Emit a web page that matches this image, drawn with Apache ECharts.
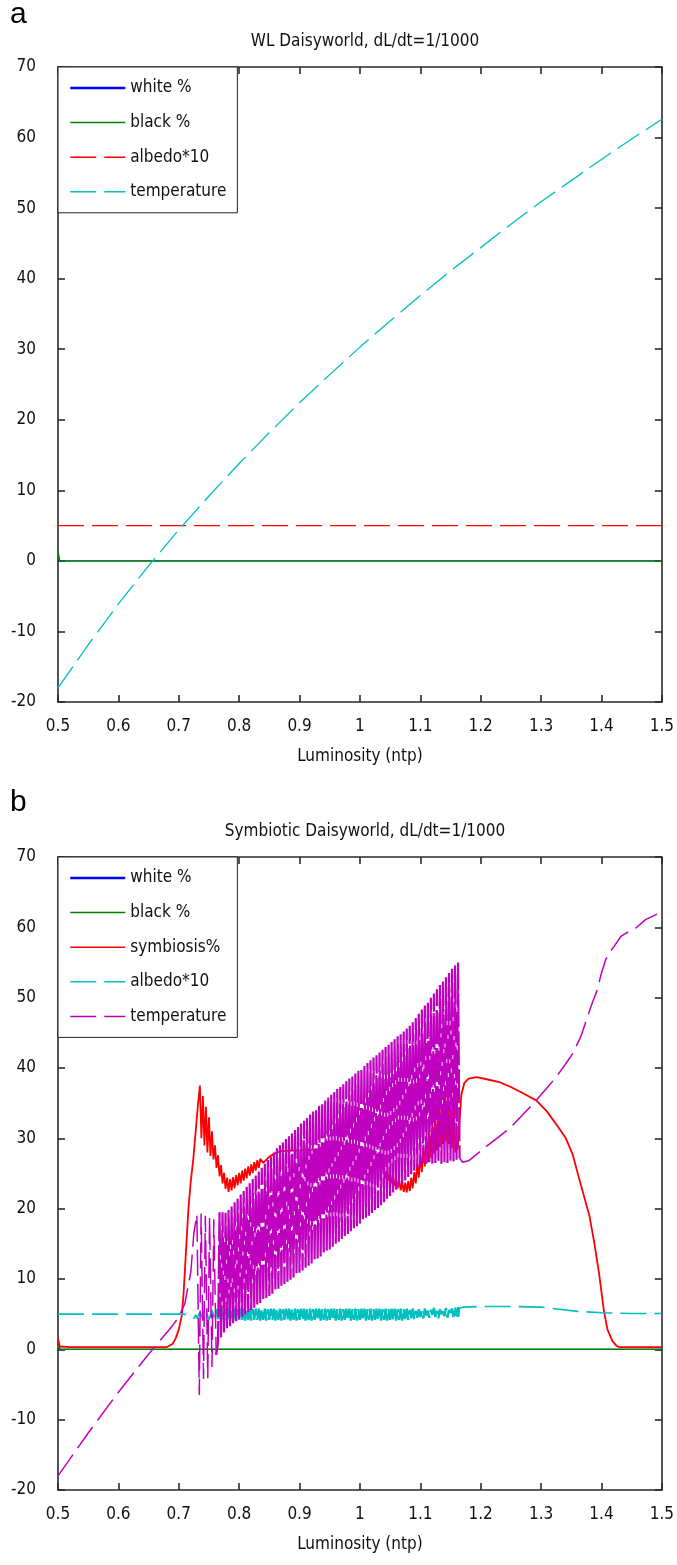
<!DOCTYPE html>
<html>
<head>
<meta charset="utf-8">
<script src="https://cdn.jsdelivr.net/npm/echarts@6/dist/echarts.min.js"></script>
<style>
html,body{margin:0;padding:0;background:#fff;}
#chart{width:677px;height:1565px;}
</style>
</head>
<body>
<div id="chart"></div>
<script>
// ---------------- DATA ----------------
const xTicksMin = 0.5, xTicksMax = 1.5, xTickStep = 0.1;
const yTicksMin = -20, yTicksMax = 70, yTickStep = 10;

// Panel a: WL Daisyworld
const lumA = [0.5,0.55,0.6,0.65,0.7,0.75,0.8,0.85,0.9,0.95,1.0,1.05,1.1,1.15,1.2,1.25,1.3,1.35,1.4,1.45,1.5];
const tempA = [-18.0,-11.9,-6.1,-0.7,4.4,9.2,13.8,18.2,22.4,26.4,30.3,34.0,37.6,41.1,44.4,47.7,50.9,53.9,56.9,59.8,62.6];
const whiteA = [[0.5,0],[1.5,0]];
const blackA = [[0.5,1.2],[0.503,0],[1.5,0]];
const albedoA = [[0.5,5],[1.5,5]];

// Panel b: Symbiotic Daisyworld
const whiteB = [[0.5,0],[1.5,0]];
const blackB = [[0.5,1.3],[0.503,0],[1.5,0]];
const symbB = [
 [0.5,1.5],[0.503,0.4],[0.52,0.3],[0.68,0.3],[0.69,0.8],[0.695,1.6],[0.7,2.8],[0.705,4.8],[0.708,8],[0.712,14],
 [0.716,20],[0.72,24],[0.724,27],[0.728,31],[0.732,35],[0.735,37.5],
 [0.7375,30],[0.74,36],[0.7425,29],[0.745,34.5],[0.7475,28],[0.75,33],[0.7525,27.5],[0.755,31],[0.7575,27],[0.76,29],
 [0.7625,25.8],[0.765,27.6],[0.7675,24.6],[0.77,26.2],[0.7725,23.6],[0.775,25.1],[0.7775,22.8],[0.78,24.4],[0.7825,22.4],
 [0.785,24.2],[0.7875,22.6],[0.79,24.5],[0.7925,22.9],[0.795,24.8],[0.7975,23.3],[0.8,25.1],[0.8025,23.6],[0.805,25.4],
 [0.8075,24.0],[0.81,25.7],[0.8125,24.3],[0.815,26.0],[0.8175,24.7],[0.82,26.3],[0.8225,25.1],[0.825,26.6],[0.8275,25.4],
 [0.83,26.9],[0.8325,25.8],[0.835,27.1],[0.84,26.5],[0.85,27.4],[0.86,27.9],[0.87,28.2],[0.9,28.3],[0.95,28.5],[1.0,27.8],
 [1.03,26.5],[1.04,25.6],[1.0425,24.3],[1.045,25.4],[1.0475,24.0],[1.05,25.0],[1.0525,23.6],[1.055,24.6],[1.0575,23.2],
 [1.06,24.3],[1.0625,22.9],[1.065,24.0],[1.0675,22.6],[1.07,23.8],[1.0725,22.4],[1.075,23.7],[1.0775,22.3],[1.08,23.9],
 [1.0825,22.5],[1.085,24.4],[1.0875,22.9],[1.09,25.2],[1.0925,23.6],[1.095,26.4],[1.0975,24.4],[1.1,27.6],[1.1025,25.2],
 [1.105,28.8],[1.1075,26.0],[1.11,30.0],[1.1125,26.6],[1.115,31.2],[1.1175,27.2],[1.12,32.3],[1.1225,27.8],[1.125,33.3],
 [1.1275,28.3],[1.13,34.2],[1.1325,28.8],[1.135,35.0],[1.1375,29.2],[1.14,35.6],[1.1425,29.6],[1.145,36.0],[1.1475,29.2],
 [1.15,36.3],[1.1525,28.6],[1.155,36.4],[1.158,28.0],[1.162,28.6],[1.165,32.5],[1.168,36.2],[1.173,37.9],[1.18,38.5],
 [1.193,38.7],[1.21,38.4],[1.231,38.0],[1.25,37.3],[1.27,36.4],[1.292,35.4],[1.31,33.8],[1.33,31.4],[1.341,30.0],
 [1.352,27.8],[1.363,24.3],[1.372,21.5],[1.38,19.0],[1.388,15.2],[1.396,10.8],[1.404,5.5],[1.41,2.8],[1.418,1.2],
 [1.425,0.5],[1.43,0.3],[1.5,0.3]
];
const albedoBPre = [[0.5,5.0],[0.71,5.0],[0.715,4.8],[0.72,4.6],[0.725,4.4],[0.728,4.9],[0.73,4.4],[0.735,5.3],[0.74,4.3],
 [0.745,5.5],[0.75,4.2],[0.755,5.6],[0.76,4.2],[0.7625,5.7]];
const albedoBPost = [[1.163,4.6],[1.165,5.8],[1.17,6.0],[1.2,6.1],[1.25,6.1],[1.3,6.0],[1.33,5.7],[1.36,5.4],[1.4,5.2],[1.45,5.1],[1.5,5.1]];
const tempBPre = [[0.5,-18.0],[0.55,-11.9],[0.6,-6.1],[0.65,-0.7],[0.69,3.4],[0.7,4.6],[0.71,6.5],[0.72,11],[0.725,16.5],
 [0.73,19.2],[0.734,-6.5],[0.737,19.3],[0.741,-4.2],[0.744,19.0],[0.748,-4.1],[0.751,18.8],[0.755,-2.5],[0.758,18.5],
 [0.762,-0.8]];
const tempBPost = [[1.165,27.2],[1.17,26.6],[1.18,26.8],[1.2,28.2],[1.21,28.9],[1.23,30.2],[1.25,31.6],[1.27,33.4],[1.29,35.2],
 [1.31,37.2],[1.325,38.7],[1.34,40.5],[1.352,42.0],[1.366,44.5],[1.375,46.8],[1.385,49.3],[1.393,51.1],[1.4,53.5],
 [1.407,55.4],[1.415,56.6],[1.421,57.3],[1.432,58.7],[1.445,59.4],[1.457,59.9],[1.465,60.5],[1.473,61.1],[1.485,61.6],[1.5,62.2]];

// Oscillation region (panel b): troughs at oscStart + i*oscStep, peaks half a step later
const oscStart = 0.765, oscStep = 0.005;
const tempBOscLo = [1.0,1.7,2.4,3.0,3.3,3.7,4.0,4.3,4.6,5.0, 5.3,5.6,5.9,6.3,6.6,6.9,7.3,7.6,7.9,8.3,
 8.6,8.9,9.3,9.6,9.9,10.2,10.6,10.9,11.2,11.6, 11.9,12.2,12.6,12.9,13.2,13.5,13.9,14.2,14.6,15.0,
 15.3,15.7,16.1,16.4,16.8,17.2,17.5,17.9,18.3,18.7, 19.0,19.4,19.8,20.1,20.5,20.9,21.4,21.8,22.3,22.7,
 23.2,23.6,24.0,24.5,24.9,25.4,25.8,26.2,26.5,26.4, 26.6,26.3,26.5,26.7,26.4,26.6,26.5,26.8,26.7,26.9];
const tempBOscHi = [19.5,19.5,19.4,19.8,20.3,20.9,21.4,22.0,22.5,23.1, 23.6,24.2,24.7,25.3,25.8,26.4,26.9,27.5,28.0,28.6,
 29.0,29.4,29.9,30.3,30.7,31.2,31.6,32.1,32.5,32.9, 33.4,33.8,34.2,34.7,35.1,35.4,35.8,36.2,36.6,37.0,
 37.3,37.7,38.1,38.5,38.8,39.2,39.6,40.0,40.3,40.7, 41.1,41.5,41.8,42.2,42.6,43.0,43.3,43.7,44.1,44.5,
 44.8,45.2,45.6,46.0,46.5,47.1,47.7,48.3,48.9,49.4, 50.0,50.6,51.2,51.8,52.3,52.9,53.5,54.1,54.6,55.0];
const albedoBOscLo = [4.3,4.2,4.1,4.2,4.1,4.2,4.1,4.2,4.2,4.1, 4.2,4.1,4.2,4.2,4.1,4.2,4.1,4.2,4.2,4.1,
 4.2,4.1,4.2,4.2,4.1,4.2,4.1,4.2,4.2,4.1, 4.2,4.1,4.2,4.2,4.1,4.2,4.1,4.2,4.2,4.1,
 4.2,4.1,4.2,4.2,4.1,4.2,4.1,4.2,4.2,4.1, 4.2,4.1,4.2,4.2,4.1,4.2,4.1,4.2,4.2,4.1,
 4.2,4.1,4.3,4.2,4.4,4.3,4.5,4.6,4.4,4.8, 4.5,4.9,4.6,4.4,5.0,4.7,4.5,5.2,4.6,4.7];
const albedoBOscHi = [5.8,5.7,5.8,5.8,5.7,5.8,5.7,5.8,5.8,5.7, 5.8,5.7,5.8,5.8,5.7,5.8,5.7,5.8,5.8,5.7,
 5.8,5.7,5.8,5.8,5.7,5.8,5.7,5.8,5.8,5.7, 5.8,5.7,5.8,5.8,5.7,5.8,5.7,5.8,5.8,5.7,
 5.8,5.7,5.8,5.8,5.7,5.8,5.7,5.8,5.8,5.7, 5.8,5.7,5.8,5.8,5.7,5.8,5.7,5.8,5.8,5.7,
 5.8,5.7,5.8,5.6,5.8,5.5,5.7,5.4,5.8,5.5, 5.6,5.9,5.5,5.7,5.4,5.9,5.6,5.8,6.0,6.0];

// ---------------- BUILD ----------------
function zip(xs, ys){ return xs.map((x,i)=>[x, ys[i]]); }
function osc(lo, hi){
  const out = [];
  for (let i=0;i<lo.length;i++){
    out.push([+(oscStart + i*oscStep).toFixed(4), lo[i]]);
    out.push([+(oscStart + (i+0.5)*oscStep).toFixed(4), hi[i]]);
  }
  return out;
}
const last = a => a[a.length-1];
// smooth (legend) parts, broken where the oscillating part is drawn
const tempBSmooth = tempBPre.concat([[0.7635, null]], tempBPost);
const tempBOsc = [last(tempBPre)].concat(osc(tempBOscLo, tempBOscHi), [tempBPost[0]]);
const albedoBSmooth = albedoBPre.concat([[0.764, null]], albedoBPost);
const albedoBOsc = [last(albedoBPre)].concat(osc(albedoBOscLo, albedoBOscHi), [albedoBPost[0]]);

const FONT = "'DejaVu Sans Condensed','Liberation Sans',sans-serif";
const FS = 17;
const TXT = '#111';
const AXC = '#2a2a2a';
const BLUE='#0000ff', GREEN='#008000', RED='#ff0000', CYAN='#00bfbf', MAG='#bf00bf';
const DASH = [26,8];
const DENSE_DASH = [34,4];

const grids = [
  {left:58, top:67, width:604, height:635},
  {left:58, top:857, width:604, height:633}
];

function xAxes(g){
  const base = {gridIndex:g, type:'value', min:xTicksMin, max:xTicksMax, interval:xTickStep,
    axisLine:{onZero:false, lineStyle:{color:AXC, width:1.6}},
    axisTick:{inside:true, length:7, lineStyle:{color:AXC, width:1.6}},
    splitLine:{show:false}};
  return [
    Object.assign({}, base, {position:'bottom',
      axisLabel:{margin:16, fontSize:FS, fontFamily:FONT, color:TXT, formatter:v=>String(+(+v).toFixed(1))},
      name:'Luminosity (ntp)', nameLocation:'middle', nameGap:46,
      nameTextStyle:{fontSize:FS, fontFamily:FONT, color:TXT}}),
    Object.assign({}, base, {position:'top', axisLabel:{show:false}})
  ];
}
function yAxes(g){
  const base = {gridIndex:g, type:'value', min:yTicksMin, max:yTicksMax, interval:yTickStep,
    axisLine:{onZero:false, lineStyle:{color:AXC, width:1.6}},
    axisTick:{inside:true, length:7, lineStyle:{color:AXC, width:1.6}},
    splitLine:{show:false}};
  return [
    Object.assign({}, base, {position:'left', axisLabel:{margin:22, fontSize:FS, fontFamily:FONT, color:TXT}}),
    Object.assign({}, base, {position:'right', axisLabel:{show:false}})
  ];
}

function line(name, data, color, g, opts){
  opts = opts || {};
  return {
    name:name, type:'line', data:data, xAxisIndex:g*2, yAxisIndex:g*2,
    symbol:'none', showSymbol:false, animation:false, smooth:false, connectNulls:false,
    lineStyle:{color:color, width:opts.width||1.3, type:opts.dash||'solid'},
    itemStyle:{color:color}
  };
}

const series = [
  line('a|white %', whiteA, BLUE, 0, {width:0.8}),
  line('a|black %', blackA, GREEN, 0, {width:1.5}),
  line('a|albedo*10', albedoA, RED, 0, {dash:DASH}),
  line('a|temperature', zip(lumA, tempA), CYAN, 0, {dash:DASH}),
  line('b|white %', whiteB, BLUE, 1, {width:0.8}),
  line('b|black %', blackB, GREEN, 1, {width:1.5}),
  line('b|symbiosis%', symbB, RED, 1, {width:1.8}),
  line('b|albedo*10', albedoBSmooth, CYAN, 1, {dash:DASH, width:1.6}),
  line('b|albedo*10 osc', albedoBOsc, CYAN, 1, {dash:DENSE_DASH, width:2.3}),
  line('b|temperature', tempBSmooth, MAG, 1, {dash:DASH, width:1.5}),
  line('b|temperature osc', tempBOsc, MAG, 1, {dash:DENSE_DASH, width:2.2})
];

function legend(top, names){
  return {
    orient:'vertical', left:58, top:top,
    data:names.map(n => n.indexOf('white') >= 0 ? {name:n, lineStyle:{width:2.5}} : {name:n, lineStyle:{width:1.5}}),
    itemWidth:55, itemHeight:20, itemGap:14.6,
    padding:[11,11,11,11], backgroundColor:'#fff', borderColor:'#222', borderWidth:1, borderRadius:0,
    selectedMode:false,
    itemStyle:{opacity:0},
    formatter:n=>n.slice(2),
    textStyle:{fontSize:FS, fontFamily:FONT, color:TXT, lineHeight:20}
  };
}

const option = {
  backgroundColor:'#fff',
  animation:false,
  title:[
    {text:'WL Daisyworld, dL/dt=1/1000', left:360, top:28, textAlign:'center',
     textStyle:{fontSize:FS, fontWeight:'normal', fontFamily:FONT, color:TXT}},
    {text:'Symbiotic Daisyworld, dL/dt=1/1000', left:360, top:818, textAlign:'center',
     textStyle:{fontSize:FS, fontWeight:'normal', fontFamily:FONT, color:TXT}}
  ],
  graphic:[
    {type:'text', left:10, top:0, style:{text:'a', fontSize:30, fontFamily:"'Liberation Sans',Arial,sans-serif", fill:'#000'}},
    {type:'text', left:10, top:788, style:{text:'b', fontSize:30, fontFamily:"'Liberation Sans',Arial,sans-serif", fill:'#000'}}
  ],
  grid:grids,
  xAxis:[].concat(xAxes(0), xAxes(1)),
  yAxis:[].concat(yAxes(0), yAxes(1)),
  legend:[
    legend(67, ['a|white %','a|black %','a|albedo*10','a|temperature']),
    legend(857, ['b|white %','b|black %','b|symbiosis%','b|albedo*10','b|temperature'])
  ],
  series:series
};

const chart = echarts.init(document.getElementById('chart'), null, {renderer:'canvas'});
chart.setOption(option);
</script>
</body>
</html>
